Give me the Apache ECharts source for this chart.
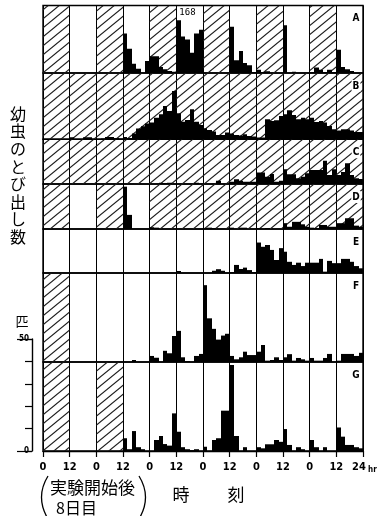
<!DOCTYPE html>
<html><head><meta charset="utf-8">
<script src="https://cdn.jsdelivr.net/npm/echarts@6/dist/echarts.min.js"></script>
<style>html,body{margin:0;padding:0;background:#fff}#c{width:383px;height:516px}</style>
</head><body><div id="c"></div>
<script>
// ---------- data ----------
const BIN_HOURS = 2;
const HOURS_TOTAL = 144;
const TICK_STEP = 12;
const tickLabels = ['0','12','0','12','0','12','0','12','0','12','0','12','24'];
const panelLetters = ['A','B','C','D','E','F','G'];
const scaleTicks = [0,10,20,30,40,50];

const countsA = [
 0,0,0,0,0,0, 0,0,0,0,0,0, 0,0,0,0,0,0,
 17.6,10.8,4.1,1.9,0,5.4, 7.5,7.5,2.7,1.7,0.9,0.6, 23.5,16.3,14.9,9.0,17.6,19.3,
 0,0,0,0,0,0, 20.6,5.7,9.8,4.5,3.5,0.4, 1.5,0.4,0.8,0,0,0,
 21.3,0,0.6,0,0,0, 0.4,2.4,1.5,0.4,1.5,0.4, 10.4,2.7,1.7,0.9,0,0];
const countsB = [
 0,0,0,0,0,0, 0.9,0,0,0.9,0.9,0, 0,0.4,1.0,1.0,0.6,0.4,
 1.0,0.6,2.6,4.8,5.8,7.1, 7.5,9.6,11.2,14.9,12.6,21.6, 11.6,7.8,8.6,13.4,7.8,6.4,
 4.9,4.1,3.5,1.9,1.9,3.0, 2.6,1.9,1.7,2.3,1.5,1.3, 0.8,0.8,8.9,8.2,8.5,10.4,
 11.2,13.0,10.9,9.0,9.6,8.9, 9.6,7.7,8.2,7.5,5.9,4.5, 3.9,4.5,4.5,3.9,3.3,3.3];
const countsC = [
 0,0,0,0,0,0, 0,0,0,0,0,0, 0,0,0,0,0,0,
 0,0,0,0,0,0, 0,0,0.6,0.4,0.6,0, 0,0,0,0,0.6,0,
 0,0,0,1.5,0,0, 1.0,2.1,1.5,1.0,1.0,1.0, 5.1,5.1,3.2,4.5,1.0,1.5,
 6.6,4.4,4.4,2.6,3.2,4.8, 6.3,6.3,6.3,10.4,4.0,6.6, 4.0,5.4,9.3,4.0,2.6,2.2];
const countsD = [
 0,0,0,0,0,0, 0,0,0,0,0,0, 0,0,0,0,0,0,
 18.9,6.3,0,0,0,0, 0.8,0.6,0,0,0,0, 0,0,0,0,0,0,
 0.4,0.6,0.4,0,0,0, 0.6,0,0.6,0.6,0,0, 0.4,0,0.4,0,0,0,
 2.6,1.0,3.2,3.2,2.1,1.0, 0.6,0.4,1.8,1.8,1.0,1.0, 2.6,2.6,4.8,4.8,1.5,1.0];
const countsE = [
 0,0,0,0,0,0, 0,0,0,0,0,0, 0,0,0,0,0,0,
 0,0,0,0,0,0, 0,0,0,0,0,0, 0.9,0,0,0,0,0,
 0,0,1.0,1.7,1.0,0, 0.4,3.6,1.8,2.4,1.3,0.4, 13.6,11.7,12.5,10.3,5.8,11.1,
 9.5,5.0,3.6,4.6,3.1,4.6, 4.6,4.6,6.3,0.6,5.4,4.4, 4.4,6.3,6.3,5.0,3.1,2.1];
const countsF = [
 0,0,0,0,0,0, 0,0,0,0,0,0, 0,0,0,0,0,0,
 0,0,0.9,0,0,0, 2.7,1.9,0,5.0,3.9,11.6, 13.9,2.1,0.4,0,2.7,3.6,
 34.3,19.5,14.8,10.0,11.8,12.6, 2.7,1.2,2.1,4.6,3.1,3.1, 4.6,7.6,0.6,0.9,2.1,0.9,
 2.1,3.5,0.6,1.8,1.2,0.6, 1.8,0.6,0.6,1.8,3.6,0, 0.6,3.6,3.6,3.6,2.7,4.1];
const countsG = [
 0,0,0,0,0,0, 0,0,0,0,0,0, 0,0,0,0,0,0,
 5.7,0.8,8.9,1.7,0.8,0, 0,4.9,6.7,3.1,2.4,16.8, 8.6,1.7,0.8,0.4,0.8,0,
 1.9,0,4.9,5.7,18.0,18.0, 38.4,6.7,0,1.7,0,0, 1.7,1.2,3.0,3.0,4.9,4.1,
 9.8,2.7,0,1.7,0.8,0, 4.9,1.7,0,1.7,0,0, 10.5,6.4,2.7,2.7,1.7,1.2];

// dark (hatched) periods, in hours
const darkA = [[0,12],[24,36],[48,60],[72,84],[96,108],[120,132]];
const darkB = [[0,144]];
const darkC = [[0,144]];
const darkD = [[0,12],[24,36],[48,144]];
const darkE = [];
const darkF = [[0,12]];
const darkG = [[0,12],[24,36]];

const noteA = {hour: 60, text: '168'};

// ---------- layout ----------
const PX_PER_COUNT = 2.24;
const layout = [
  {top:5.5, h:67.5}, {top:73, h:66.3}, {top:139.3, h:44.7}, {top:184, h:45},
  {top:229, h:44}, {top:273, h:89}, {top:362, h:89}
];
const panels = [
  {counts:countsA, dark:darkA}, {counts:countsB, dark:darkB}, {counts:countsC, dark:darkC},
  {counts:countsD, dark:darkD}, {counts:countsE, dark:darkE}, {counts:countsF, dark:darkF},
  {counts:countsG, dark:darkG}
];

// hatch pattern
const hatch = document.createElement('canvas');
hatch.width = 11; hatch.height = 9;
const hg = hatch.getContext('2d');
hg.strokeStyle = '#1a1a1a'; hg.lineWidth = 1.1;
for (let n = 0; n <= 2; n++) {
  hg.beginPath(); hg.moveTo(-2, 9*n + 18/11); hg.lineTo(13, 9*n - 117/11); hg.stroke();
}
const hatchFill = {image: hatch, repeat: 'repeat'};

const FONT_NUM = '"Liberation Sans Narrow", "DejaVu Sans Condensed", sans-serif';
const FONT_JP = '"Noto Sans CJK JP", sans-serif';

const grids = [], xAxes = [], yAxes = [], series = [], graphics = [];
panels.forEach((p, i) => {
  const L = layout[i];
  const yMax = L.h / PX_PER_COUNT;
  const last = i === panels.length - 1;
  grids.push({left:43, right:20, top:L.top, height:L.h, show:true, borderColor:'#000', borderWidth:1.4, outerBoundsMode:'none'});
  xAxes.push({
    gridIndex:i, type:'value', min:0, max:HOURS_TOTAL, interval:TICK_STEP,
    axisLine:{show:last, onZero:false, lineStyle:{color:'#000', width:1.4}},
    axisTick:{show:last, length:6, lineStyle:{color:'#000', width:1.2}},
    axisLabel:{show:last, margin:11, color:'#000', fontFamily:FONT_NUM, fontWeight:'bold', fontSize:11,
      showMinLabel:true, showMaxLabel:true, hideOverlap:false,
      formatter: v => { const k = Math.round(v / TICK_STEP); return k === tickLabels.length - 1 ? '{r|' + tickLabels[k] + '}' : tickLabels[k]; },
      rich:{r:{padding:[0,8,0,0], fontFamily:FONT_NUM, fontWeight:'bold', fontSize:11, color:'#000'}}},
    splitLine:{show:true, lineStyle:{color:'#000', width:1}}
  });
  yAxes.push({gridIndex:i, type:'value', min:0, max:yMax, show:false});
  series.push({
    type:'custom', xAxisIndex:i, yAxisIndex:i, z:1, silent:true, clip:true,
    data:p.dark, encode:{x:[0,1]},
    renderItem:(params, api) => {
      const a = api.coord([api.value(0), yMax]);
      const b = api.coord([api.value(1), 0]);
      return {type:'rect', shape:{x:a[0], y:a[1], width:b[0]-a[0], height:b[1]-a[1]}, style:{fill:hatchFill}};
    }
  });
  series.push({
    type:'custom', xAxisIndex:i, yAxisIndex:i, z:3, silent:true, clip:true,
    data:p.counts.map((v, k) => [k*BIN_HOURS, (k+1)*BIN_HOURS, v]), encode:{x:[0,1], y:2},
    renderItem:(params, api) => {
      const v = api.value(2);
      if (!v) return null;
      const a = api.coord([api.value(0), v]);
      const b = api.coord([api.value(1), 0]);
      const x0 = Math.round(a[0]), x1 = Math.round(b[0]);
      return {type:'rect', shape:{x:x0, y:a[1], width:x1 - x0, height:b[1]-a[1]}, style:{fill:'#000'}};
    }
  });
  graphics.push({type:'text', x:356, y:L.top + 13, z:10,
    style:{text:panelLetters[i], fill:'#000', font:'bold 10px ' + FONT_NUM, textAlign:'center', textVerticalAlign:'middle',
      backgroundColor: p.dark.some(d => d[1] === HOURS_TOTAL) ? '#fff' : 'transparent', padding:[1,1]}});
});

// scale bar (count axis)
const SG = panels.length;
const scaleTop = 451 - scaleTicks[scaleTicks.length-1] * PX_PER_COUNT;
grids.push({left:32, top:scaleTop, width:1, height:451 - scaleTop, show:false, outerBoundsMode:'none'});
xAxes.push({gridIndex:SG, type:'value', show:false, min:0, max:1});
yAxes.push({gridIndex:SG, type:'value', position:'left', min:scaleTicks[0], max:scaleTicks[scaleTicks.length-1], interval:10,
  axisLine:{show:true, lineStyle:{color:'#000', width:1.4}}, axisTick:{show:true, length:7, lineStyle:{color:'#000', width:1.2}},
  axisLabel:{show:false}, splitLine:{show:false}});
yAxes.push({gridIndex:SG, type:'value', position:'left', min:0, max:50, interval:50,
  axisLine:{show:false}, axisTick:{show:true, length:15, lineStyle:{color:'#000', width:1.2}},
  axisLabel:{show:true, margin:3, color:'#000', fontFamily:FONT_NUM, fontWeight:'bold', fontSize:8}, splitLine:{show:false}});

// annotation "168" on panel A
series.push({type:'custom', xAxisIndex:0, yAxisIndex:0, z:5, silent:true, data:[[noteA.hour]], encode:{x:0},
  renderItem:(params, api) => {
    const c = api.coord([api.value(0), 0]);
    return {type:'text', x:c[0] + 3, y:layout[0].top + 7, style:{text:noteA.text, fill:'#000', font:'9px "DejaVu Sans Mono", monospace', textAlign:'left', textVerticalAlign:'middle'}};
  }});

graphics.push(
  {type:'text', x:368, y:470, style:{text:'hr', fill:'#000', font:'bold 8px ' + FONT_NUM, textAlign:'left', textVerticalAlign:'middle'}},
  {type:'text', x:18, y:105, style:{text:'幼\n虫\nの\nと\nび\n出\nし\n数', fill:'#000', font:'16px ' + FONT_JP, lineHeight:17.6, textAlign:'center', textVerticalAlign:'top'}},
  {type:'text', x:22, y:321, style:{text:'匹', fill:'#000', font:'13px ' + FONT_JP, textAlign:'center', textVerticalAlign:'middle'}},
  {type:'text', x:50, y:488, style:{text:'実験開始後', fill:'#000', font:'17px ' + FONT_JP, textAlign:'left', textVerticalAlign:'middle'}},
  {type:'text', x:56, y:508, style:{text:'8日目', fill:'#000', font:'16px ' + FONT_JP, textAlign:'left', textVerticalAlign:'middle'}},
  {type:'text', x:181, y:495, style:{text:'時', fill:'#000', font:'17px ' + FONT_JP, textAlign:'center', textVerticalAlign:'middle'}},
  {type:'text', x:236, y:495, style:{text:'刻', fill:'#000', font:'17px ' + FONT_JP, textAlign:'center', textVerticalAlign:'middle'}},
  {type:'bezierCurve', shape:{x1:48, y1:476, cpx1:35, cpy1:497, x2:48, y2:519}, style:{stroke:'#000', lineWidth:1.3, fill:null}},
  {type:'bezierCurve', shape:{x1:139, y1:476, cpx1:152, cpy1:497, x2:139, y2:519}, style:{stroke:'#000', lineWidth:1.3, fill:null}}
);

const chart = echarts.init(document.getElementById('c'), null, {renderer:'canvas'});
chart.setOption({
  animation:false, backgroundColor:'#fff',
  grid:grids, xAxis:xAxes, yAxis:yAxes, series:series, graphic:graphics
});
</script></body></html>
